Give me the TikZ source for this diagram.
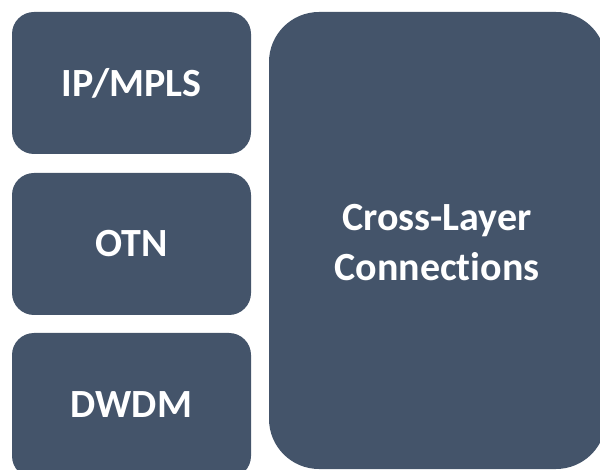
\documentclass[tikz,border=0pt]{standalone}
\usepackage{fontspec}
\setmainfont[Ligatures={NoCommon,NoContextual}]{Carlito}
\definecolor{boxfill}{HTML}{44546A}
\begin{document}
\begin{tikzpicture}[x=1pt,y=-1pt,
  layerbox/.style={fill=boxfill, draw=none, rounded corners=22pt},
  bigbox/.style={fill=boxfill, draw=none, rounded corners=50pt},
  lbl/.style={text=white, font=\fontsize{40}{50}\selectfont\bfseries, align=center}]
\useasboundingbox (0,0) rectangle (600,470);
\begin{scope}
\clip (0,0) rectangle (600,470);
\fill[layerbox] (12,12) rectangle (251,154);
\fill[layerbox] (12,173) rectangle (251,315);
\fill[layerbox] (12,333) rectangle (251,478);
\fill[bigbox] (269,12) rectangle (606,469);
\end{scope}
\node[lbl] (ip) at (131.5,83) {IP/MPLS};
\node[lbl] (otn) at (131.5,244) {OTN};
\node[lbl] (dwdm) at (131.5,405) {DWDM};
\node[lbl] (cross) at (437,243) {Cross-Layer\\Connect\kern0pt ions};
\end{tikzpicture}
\end{document}
